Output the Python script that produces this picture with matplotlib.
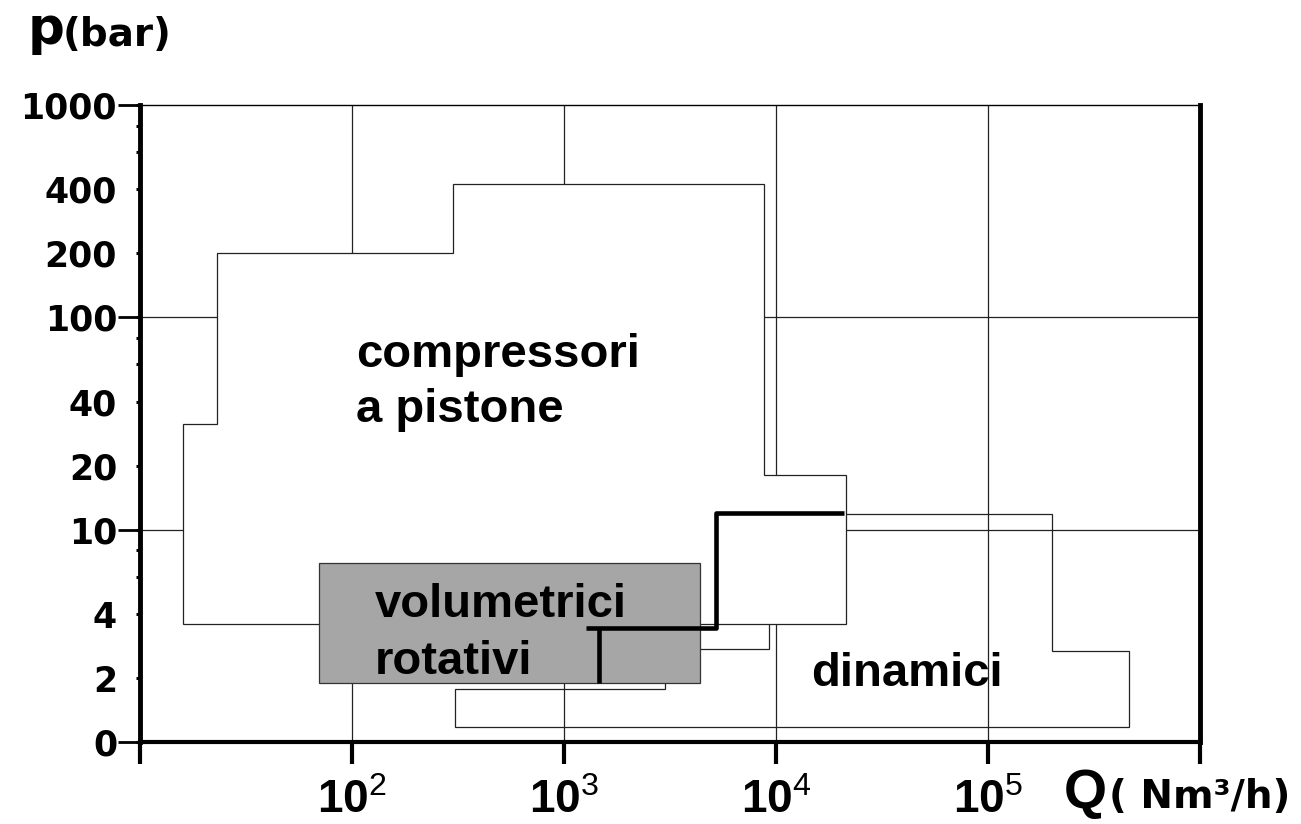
import matplotlib
matplotlib.use('Agg')
import matplotlib.pyplot as plt
from matplotlib.ticker import FixedLocator, NullFormatter

plt.rcParams['mathtext.fontset'] = 'custom'
plt.rcParams['mathtext.rm'] = 'Liberation Sans'
plt.rcParams['mathtext.bf'] = 'Liberation Sans:bold'

# ---------------- data ----------------
X_TICKS = [1e1, 1e2, 1e3, 1e4, 1e5, 1e6]
X_LABELS = ['', r'$\mathbf{10}^{2}$', r'$\mathbf{10}^{3}$', r'$\mathbf{10}^{4}$', r'$\mathbf{10}^{5}$', '']
Y_TICKS = [1, 2, 4, 10, 20, 40, 100, 200, 400, 1000]
Y_LABELS = ['0', '2', '4', '10', '20', '40', '100', '200', '400', '1000']
Y_MINOR = [6, 8, 60, 80, 600, 800]
Y_LONG = [1, 10, 100, 1000]
GRID_Q = [1e2, 1e3, 1e4, 1e5]
GRID_P = [10, 100]

# compressori a pistone (step envelope)
PISTON_Q = [16, 16, 23, 23, 300, 300, 8800, 8800, 21500, 21500]
PISTON_P = [3.6, 31.5, 31.5, 200, 200, 425, 425, 18, 18, 3.6]

# volumetrici rotativi (box)
ROTARY_Q = [70, 4400, 4400, 70]
ROTARY_P = [1.9, 1.9, 7, 7]

# dinamici (step envelope)
DYN_Q = [305, 305, 3000, 3000, 9270, 9270, 2e5, 2e5, 4.6e5, 4.6e5]
DYN_P = [1.18, 1.78, 1.78, 2.74, 2.74, 11.86, 11.86, 2.68, 2.68, 1.18]

# thick boundary line
BOUND_Q = [1270, 5210, 5210, 20900]
BOUND_P = [3.44, 3.44, 12, 12]
STEM_Q = [1460, 1460]
STEM_P = [3.44, 1.9]

# ---------------- figure ----------------
W, H = 1301, 824
fig = plt.figure(figsize=(W / 100, H / 100), dpi=100)
L, R, T, B = 140, 1200, 105, 742
ax = fig.add_axes([L / W, 1 - B / H, (R - L) / W, (B - T) / H])
ax.set_xscale('log')
ax.set_yscale('log')
ax.set_xlim(1e1, 1e6)
ax.set_ylim(1, 1000)

line_c = '#222222'
for q in GRID_Q:
    ax.axvline(q, color=line_c, lw=0.9, zorder=1)
for p in GRID_P:
    ax.axhline(p, color=line_c, lw=0.9, zorder=1)

ax.fill(DYN_Q, DYN_P, facecolor='none', edgecolor=line_c, lw=0.9, zorder=1.5)
ax.fill(PISTON_Q, PISTON_P, facecolor='white', edgecolor=line_c, lw=0.9, zorder=2)
ax.fill(ROTARY_Q, ROTARY_P, facecolor='#a6a6a6', edgecolor='#333333', lw=0.9, zorder=3)
ax.plot(BOUND_Q, BOUND_P, color='black', lw=3.3, zorder=4, solid_capstyle='butt')
ax.plot(STEM_Q, STEM_P, color='black', lw=3.3, zorder=4, solid_capstyle='butt')

# spines
ax.spines['left'].set_linewidth(3.5)
ax.spines['bottom'].set_linewidth(3.0)
ax.spines['right'].set_linewidth(3.5)
ax.spines['top'].set_linewidth(1.0)
for s in ax.spines.values():
    s.set_color('black')
    s.set_zorder(5)

# x ticks
ax.xaxis.set_major_locator(FixedLocator(X_TICKS))
ax.set_xticklabels(X_LABELS)
ax.xaxis.set_minor_locator(FixedLocator([]))
ax.tick_params(axis='x', which='major', direction='out', length=16, width=3,
               pad=10, labelsize=33, color='black')

# y ticks
ax.yaxis.set_major_locator(FixedLocator(Y_TICKS))
ax.set_yticklabels(Y_LABELS)
ax.yaxis.set_minor_locator(FixedLocator(Y_MINOR))
ax.yaxis.set_minor_formatter(NullFormatter())
ax.tick_params(axis='y', which='major', direction='out', length=3, width=2.2,
               pad=13.5, labelsize=25)
ax.tick_params(axis='y', which='minor', direction='out', length=3, width=2.2)
for lbl in ax.get_yticklabels():
    lbl.set_fontfamily('DejaVu Sans')
    lbl.set_fontweight('bold')

sec = ax.secondary_yaxis('left')
sec.set_yticks(Y_LONG)
sec.tick_params(axis='y', which='major', direction='out', length=16, width=2,
                labelleft=False)
sec.tick_params(axis='y', which='minor', length=0)
sec.spines['left'].set_visible(False)

# region labels
def ftext(x, y, s, **kw):
    fig.text(x / W, 1 - y / H, s, va='baseline', ha='left', **kw)

reg = dict(fontsize=34, fontweight='bold', family='Liberation Sans', color='black')
ftext(356, 367, 'compressori', **reg)
ftext(356, 422, 'a pistone', **reg)
ftext(375, 617, 'volumetrici', **reg)
ftext(375, 674, 'rotativi', **reg)
ftext(811, 686, 'dinamici', **reg)

# axis titles
ftext(28, 44, 'p', fontsize=37, fontweight='bold', family='DejaVu Sans')
ftext(63, 46, '(bar)', fontsize=28, fontweight='bold', family='DejaVu Sans')
ftext(1064, 808, 'Q', fontsize=40, fontweight='bold', family='Liberation Sans')
ftext(1109, 808, '( Nm³/h)', fontsize=28, fontweight='bold', family='DejaVu Sans')

fig.savefig('out.png', dpi=100)
